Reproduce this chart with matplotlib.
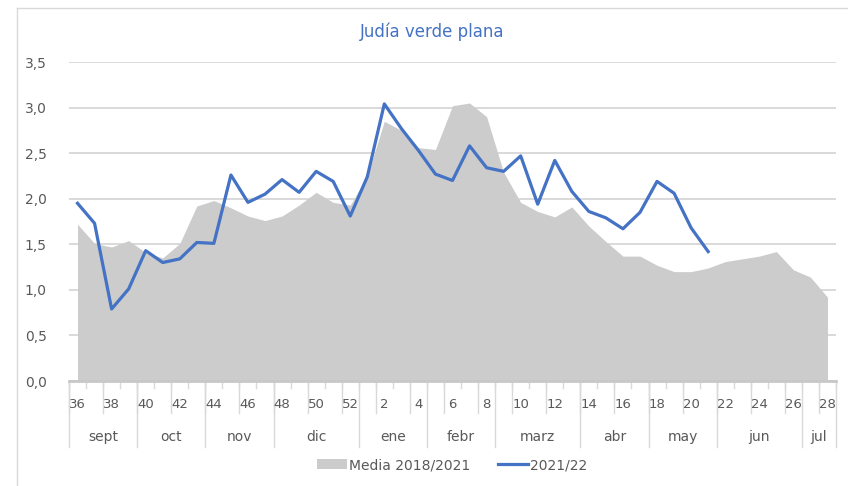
import matplotlib
matplotlib.use("Agg")
import matplotlib.pyplot as plt
from matplotlib.lines import Line2D
from matplotlib.patches import Patch
from matplotlib.transforms import blended_transform_factory, offset_copy

weeks = [36, 37, 38, 39, 40, 41, 42, 43, 44, 45, 46, 47, 48, 49, 50, 51, 52,
         1, 2, 3, 4, 5, 6, 7, 8, 9, 10, 11, 12, 13, 14, 15, 16, 17, 18, 19, 20,
         21, 22, 23, 24, 25, 26, 27, 28]
months = ["sept", "oct", "nov", "dic", "ene", "febr", "marz", "abr", "may", "jun", "jul"]
month_weeks = [4, 4, 4, 5, 4, 4, 5, 4, 4, 5, 2]

media = [1.72, 1.51, 1.47, 1.54, 1.41, 1.35, 1.51, 1.92, 1.98, 1.90, 1.81, 1.76,
         1.81, 1.93, 2.07, 1.96, 1.93, 2.25, 2.85, 2.75, 2.56, 2.54, 3.02, 3.05,
         2.90, 2.29, 1.96, 1.86, 1.80, 1.91, 1.70, 1.53, 1.37, 1.37, 1.27, 1.20,
         1.20, 1.24, 1.31, 1.34, 1.37, 1.42, 1.22, 1.14, 0.92]
actual = [1.95, 1.73, 0.79, 1.01, 1.43, 1.30, 1.34, 1.52, 1.51, 2.26, 1.96, 2.05,
          2.21, 2.07, 2.30, 2.19, 1.81, 2.24, 3.04, 2.77, 2.53, 2.27, 2.20, 2.58,
          2.34, 2.30, 2.47, 1.94, 2.42, 2.08, 1.86, 1.79, 1.67, 1.85, 2.19, 2.06,
          1.68, 1.42]

BLUE = "#4472C4"
GRAY = "#CCCCCC"
GRID = "#D9D9D9"
TXT = "#595959"

plt.rcParams["font.family"] = ["DejaVu Sans"]

fig = plt.figure(figsize=(8.48, 4.86), dpi=100)
W, H = 848, 486
ax = fig.add_axes([69 / W, 1 - 381 / H, (836 - 69) / W, (381 - 62) / H])

x = list(range(len(weeks)))
ax.fill_between(x, media, 0, color=GRAY, lw=0, zorder=2)
ax.plot(range(len(actual)), actual, color=BLUE, lw=2.3, zorder=3,
        solid_joinstyle="round")

ax.set_xlim(-0.5, len(weeks) - 0.5)
ax.set_ylim(0, 3.5)
yt = [0, 0.5, 1.0, 1.5, 2.0, 2.5, 3.0, 3.5]
ax.set_yticks(yt)
ax.set_yticklabels([f"{v:.1f}".replace(".", ",") for v in yt], color=TXT, fontsize=10)
ax.tick_params(axis="y", length=0, pad=16)
ax.grid(axis="y", color=GRID, lw=1.4, zorder=1)
ax.set_xticks([])
for s in ax.spines.values():
    s.set_visible(False)
ax.axhline(0, color="#C8C8C8", lw=2, zorder=4, clip_on=False)

# multi-level category axis
tr = blended_transform_factory(ax.transData, ax.transAxes)
px = 1 / (381 - 62)  # one pixel in axes-fraction units
for b in range(len(weeks) + 1):
    ax.plot([b - 0.5, b - 0.5], [0, -7 * px], color=GRID, lw=1, transform=tr, clip_on=False)
for i in range(0, len(weeks), 2):
    ax.plot([i - 0.5, i - 0.5], [0, -32 * px], color=GRID, lw=1, transform=tr, clip_on=False)
    ax.text(i, -23 * px, str(weeks[i]), transform=tr, ha="center", va="center",
            fontsize=9.5, color=TXT)
start = 0
for m, n in zip(months, month_weeks):
    ax.plot([start - 0.5, start - 0.5], [0, -66 * px], color=GRID, lw=1, transform=tr, clip_on=False)
    ax.text(start + (n - 1) / 2, -56 * px, m, transform=tr, ha="center", va="center",
            fontsize=10, color=TXT)
    start += n
ax.plot([start - 0.5, start - 0.5], [0, -66 * px], color=GRID, lw=1, transform=tr, clip_on=False)

fig.text(432 / W, 1 - 32 / H, "Judía verde plana", ha="center", va="center",
         fontsize=12, color=BLUE)

handles = [Patch(facecolor=GRAY, edgecolor="none"), Line2D([0], [0], color=BLUE, lw=2.3)]
fig.legend(handles, ["Media 2018/2021", "2021/22"], loc="center",
           bbox_to_anchor=(452 / W, 1 - 465 / H), ncol=2, frameon=False,
           fontsize=10, labelcolor=TXT, handlelength=2.2, handletextpad=0.1,
           columnspacing=2.0)

# chart-area border
fig.add_artist(Line2D([16.5 / W, 16.5 / W], [0, 1 - 8 / H], color=GRID, lw=1))
fig.add_artist(Line2D([16.5 / W, 1], [1 - 8 / H, 1 - 8 / H], color=GRID, lw=1))

fig.savefig("out.png", dpi=100)
